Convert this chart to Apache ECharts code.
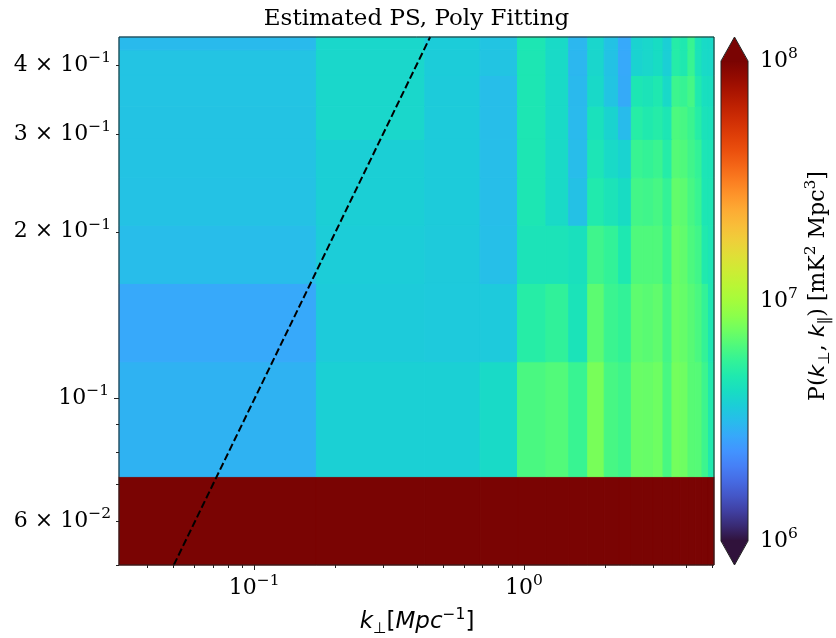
<!DOCTYPE html>
<html><head><meta charset="utf-8">
<script src="https://cdn.jsdelivr.net/npm/echarts@6/dist/echarts.min.js"></script>
<style>html,body{margin:0;padding:0;background:#fff}#c{width:836px;height:638px}</style>
</head><body><div id="c"></div>
<script>
// ---- data ----
const kPerpEdges = [0.030, 0.170, 0.429, 0.688, 0.947, 1.207, 1.466, 1.725, 1.985, 2.244, 2.503, 2.763, 3.022, 3.281, 3.541, 3.800, 4.059, 4.319, 4.578, 4.837, 5.096];
const kParEdges = [0.028, 0.0722, 0.1164, 0.1612, 0.2053, 0.2501, 0.2934, 0.3368, 0.3826, 0.4256, 0.4698];
const powerUnit = 1e6; // mK^2 Mpc^3
const psRow0 = [200, 200, 200, 200, 200, 200, 200, 200, 200, 200, 200, 200, 200, 200, 200, 200, 200, 200, 200, 200];
const psRow1 = [2.95, 3.75, 3.75, 4.09, 6.37, 6.61, 5.81, 7.91, 6.25, 5.97, 7.35, 7.28, 7.52, 6.31, 7.76, 7.52, 6.78, 6.71, 5.92, 4.90];
const psRow2 = [2.75, 3.60, 3.55, 3.55, 5.15, 5.55, 4.51, 6.92, 5.86, 5.62, 6.98, 6.84, 7.08, 6.14, 7.45, 7.21, 6.78, 6.37, 5.65, 4.72];
const psRow3 = [3.18, 3.66, 3.57, 3.24, 4.55, 4.55, 4.37, 6.00, 5.62, 4.81, 6.52, 6.52, 6.55, 5.81, 7.38, 7.08, 6.43, 6.08, 4.90, 4.63];
const psRow4 = [3.33, 3.73, 3.60, 3.21, 4.72, 4.09, 3.30, 4.94, 4.55, 4.19, 6.14, 6.03, 6.25, 5.65, 7.15, 6.92, 6.25, 5.81, 4.70, 4.66];
const psRow5 = [3.36, 3.73, 3.60, 3.21, 4.72, 4.09, 3.18, 4.63, 4.09, 3.86, 5.81, 5.65, 5.86, 5.08, 6.71, 6.52, 6.03, 5.65, 4.63, 4.59];
const psRow6 = [3.36, 3.98, 3.60, 3.21, 4.72, 4.09, 3.11, 4.41, 3.87, 3.15, 5.15, 4.90, 5.08, 4.70, 6.43, 6.25, 5.86, 5.15, 4.47, 4.41];
const psRow7 = [3.37, 3.98, 3.60, 3.21, 4.72, 4.09, 3.09, 4.06, 3.39, 2.78, 4.72, 4.55, 4.83, 4.06, 5.92, 5.75, 6.19, 4.90, 4.33, 4.29];
const psRow8 = [3.37, 3.98, 3.63, 3.39, 4.72, 4.09, 3.05, 3.95, 3.34, 2.75, 3.86, 3.98, 4.19, 3.73, 5.08, 4.83, 5.81, 4.47, 4.09, 4.06];
const psRow9 = [3.12, 3.98, 3.63, 3.39, 4.72, 4.09, 3.05, 3.95, 3.34, 2.75, 3.86, 3.98, 4.19, 3.73, 5.08, 4.83, 5.81, 4.47, 4.09, 4.06];
const psRows = [psRow0, psRow1, psRow2, psRow3, psRow4, psRow5, psRow6, psRow7, psRow8, psRow9];

const kPerpRange = [0.0315, 5.07];
const kParRange = [0.05, 0.449];
const colorRange = [1e6, 1e8];

const wedgeKperp = [0.0503, 0.449];
const wedgeKpar = [0.05, 0.449];

const xMajorTicks = [0.1, 1];
const xMajorLabels = [['', '10', '−1'], ['', '10', '0']];
const xMinorTicks = [0.04, 0.05, 0.06, 0.07, 0.08, 0.09, 0.2, 0.3, 0.4, 0.5, 0.6, 0.7, 0.8, 0.9, 2, 3, 4, 5];
const yMajorTicks = [0.1];
const yMajorLabels = [['', '10', '−1']];
const yMinorTicks = [0.05, 0.06, 0.07, 0.08, 0.09, 0.2, 0.3, 0.4];
const yMinorLabels = [null, ['6 × ', '10', '−2'], null, null, null, ['2 × ', '10', '−1'], ['3 × ', '10', '−1'], ['4 × ', '10', '−1']];

// ---- styling: turbo colormap (sampled every 8th entry) ----
const turboLUT = [
 [48,18,59],[57,42,115],[64,64,162],[68,86,199],[70,107,227],[70,128,246],[66,148,255],[55,168,250],
 [40,188,235],[28,205,216],[24,221,194],[31,233,175],[50,242,152],[78,249,125],[109,254,98],[139,255,75],
 [164,252,60],[185,246,53],[205,236,52],[223,223,55],[238,207,58],[248,190,57],[253,172,52],[254,150,43],
 [251,126,33],[244,102,23],[235,80,14],[223,63,8],[208,47,5],[190,33,2],[169,20,1],[146,10,1],[122,4,3]];
const turboColors = turboLUT.map(c => 'rgb(' + c.join(',') + ')');
const overColor = '#7a0403';
const underColor = '#30123b';
const SERIF = '"DejaVu Serif", serif';
const SANS = '"DejaVu Sans", sans-serif';
const FS = 22, FSS = 15.5;
const richSerif = {
  b: {fontFamily:SERIF, fontSize:FS, lineHeight:30, fill:'#000', color:'#000'},
  s: {fontFamily:SERIF, fontSize:FSS, lineHeight:15, verticalAlign:'top', fill:'#000', color:'#000'}
};
const labelText = parts => '{b|' + parts[0] + parts[1] + '}{s|' + parts[2] + '}';

// cells
const cells = [];
psRows.forEach((row, j) => {
  row.forEach((v, i) => {
    const val = v * powerUnit;
    cells.push([kPerpEdges[i], kPerpEdges[i+1], kParEdges[j], kParEdges[j+1], Math.log10(val), val]);
  });
});

const xTickData = [];
xMajorTicks.forEach((v,i) => xTickData.push({value:[v, kParRange[0]], major:true, label:xMajorLabels[i]}));
xMinorTicks.forEach(v => xTickData.push({value:[v, kParRange[0]], major:false, label:null}));
const yTickData = [];
yMajorTicks.forEach((v,i) => yTickData.push({value:[kPerpRange[0], v], major:true, label:yMajorLabels[i]}));
yMinorTicks.forEach((v,i) => yTickData.push({value:[kPerpRange[0], v], major:false, label:yMinorLabels[i]}));

const crisp = x => Math.round(x) + 0.5;

const chart = echarts.init(document.getElementById('c'), null, {renderer:'canvas'});
chart.setOption({
  animation: false,
  backgroundColor: '#fff',
  grid: [
    {left:119, top:37, width:595, height:528},
    {left:721, top:61, width:27, height:480}
  ],
  xAxis: [
    {type:'log', gridIndex:0, min:kPerpRange[0], max:kPerpRange[1], axisLine:{show:false}, axisTick:{show:false}, axisLabel:{show:false}, splitLine:{show:false}},
    {type:'value', gridIndex:1, min:0, max:1, show:false}
  ],
  yAxis: [
    {type:'log', gridIndex:0, min:kParRange[0], max:kParRange[1], axisLine:{show:false}, axisTick:{show:false}, axisLabel:{show:false}, splitLine:{show:false}},
    {type:'log', gridIndex:1, min:colorRange[0], max:colorRange[1], position:'right',
     axisLine:{show:false}, splitLine:{show:false},
     axisTick:{show:true, length:5, lineStyle:{color:'#222', width:1}},
     axisLabel:{margin:12, color:'#000', fontFamily:SERIF, fontSize:FS, rich:richSerif,
       formatter: v => labelText(['', '10', String(Math.round(Math.log10(v)))])}}
  ],
  visualMap: [{
    type:'continuous', show:false, seriesIndex:0, dimension:4, min:6, max:8,
    inRange:{color:turboColors}, outOfRange:{color:[overColor]}
  }],
  series: [
    {
      type:'custom', name:'PS', xAxisIndex:0, yAxisIndex:0, z:1, silent:true,
      data: cells,
      encode:{x:[0,1], y:[2,3]},
      renderItem: function(params, api){
        const p0 = api.coord([api.value(0), api.value(2)]);
        const p1 = api.coord([api.value(1), api.value(3)]);
        const cs = params.coordSys;
        const shape = echarts.graphic.clipRectByRect(
          {x:p0[0], y:p1[1], width:p1[0]-p0[0], height:p0[1]-p1[1]},
          {x:cs.x, y:cs.y, width:cs.width, height:cs.height});
        if (!shape) return;
        const col = api.value(4) > 8 ? overColor : api.visual('color');
        return {type:'rect', shape:shape, style:{fill:col, stroke:col, lineWidth:1}};
      }
    },
    {
      type:'line', name:'wedge', xAxisIndex:0, yAxisIndex:0, z:5, silent:true,
      data: wedgeKperp.map((x,i) => [x, wedgeKpar[i]]),
      showSymbol:false, symbol:'none',
      lineStyle:{color:'#000', width:2, type:[7.4,3.2]}
    },
    {
      type:'custom', name:'frame', xAxisIndex:0, yAxisIndex:0, z:6, silent:true,
      data:[[kPerpRange[0], kParRange[0]]],
      renderItem: function(params, api){
        const cs = params.coordSys;
        return {type:'rect', shape:{x:crisp(cs.x)-0.5, y:crisp(cs.y)-0.5, width:Math.round(cs.width), height:Math.round(cs.height)},
                style:{fill:'none', stroke:'#222', lineWidth:1}};
      }
    },
    {
      type:'custom', name:'xticks', xAxisIndex:0, yAxisIndex:0, z:6, silent:true, clip:false,
      data: xTickData,
      renderItem: function(params, api){
        const d = xTickData[params.dataIndex];
        const p = api.coord(d.value);
        const len = d.major ? 5 : 3;
        const x = crisp(p[0]);
        const ch = [{type:'line', shape:{x1:x, y1:p[1], x2:x, y2:p[1]+len}, style:{stroke:'#222', lineWidth:1}}];
        if (d.label) ch.push({type:'text', x:p[0], y:p[1]+len+3, style:{text:labelText(d.label), rich:richSerif, align:'center', verticalAlign:'top'}});
        return {type:'group', children:ch};
      }
    },
    {
      type:'custom', name:'yticks', xAxisIndex:0, yAxisIndex:0, z:6, silent:true, clip:false,
      data: yTickData,
      renderItem: function(params, api){
        const d = yTickData[params.dataIndex];
        const p = api.coord(d.value);
        const len = d.major ? 5 : 3;
        const y = crisp(p[1]);
        const ch = [{type:'line', shape:{x1:p[0], y1:y, x2:p[0]-len, y2:y}, style:{stroke:'#222', lineWidth:1}}];
        if (d.label) ch.push({type:'text', x:p[0]-len-5, y:p[1], style:{text:labelText(d.label), rich:richSerif, align:'right', verticalAlign:'middle'}});
        return {type:'group', children:ch};
      }
    },
    {
      type:'custom', name:'colorbar', xAxisIndex:1, yAxisIndex:1, z:2, silent:true, clip:false,
      data:[[0, colorRange[0]]],
      renderItem: function(params, api){
        const tl = api.coord([0, colorRange[1]]);
        const br = api.coord([1, colorRange[0]]);
        const len = br[1] - tl[1];
        const ext = 0.05 * len;
        const cx = (tl[0] + br[0]) / 2;
        const stops = turboColors.map((c,i) => ({offset:i/(turboColors.length-1), color:c}));
        return {type:'group', children:[
          {type:'rect', shape:{x:tl[0], y:tl[1], width:br[0]-tl[0], height:len},
           style:{fill:new echarts.graphic.LinearGradient(0,1,0,0,stops)}},
          {type:'polygon', shape:{points:[[tl[0],tl[1]+0.5],[cx,tl[1]-ext],[br[0],tl[1]+0.5]]}, style:{fill:overColor}},
          {type:'polygon', shape:{points:[[tl[0],br[1]-0.5],[cx,br[1]+ext],[br[0],br[1]-0.5]]}, style:{fill:underColor}},
          {type:'polygon', shape:{points:[[cx,tl[1]-ext],[br[0],tl[1]],[br[0],br[1]],[cx,br[1]+ext],[tl[0],br[1]],[tl[0],tl[1]]]},
           style:{fill:'none', stroke:'#222', lineWidth:1}}
        ]};
      }
    }
  ],
  graphic: [
    {type:'text', x:416.5, y:19, style:{text:'Estimated PS, Poly Fitting', fill:'#000', font:'23px '+SERIF, align:'center', verticalAlign:'middle'}},
    {type:'text', x:417, y:622, style:{
      text:'{i|k}{d|⊥}{n|[}{i|Mpc}{p|−1}{n|]}', align:'center', verticalAlign:'middle',
      rich:{
        i:{fontFamily:SANS, fontStyle:'italic', fontSize:23, lineHeight:30, fill:'#000'},
        n:{fontFamily:SANS, fontSize:23, lineHeight:30, fill:'#000'},
        d:{fontFamily:SANS, fontSize:FSS, lineHeight:20, verticalAlign:'bottom', fill:'#000'},
        p:{fontFamily:SANS, fontSize:FSS, lineHeight:15, verticalAlign:'top', fill:'#000'}
      }}},
    {type:'text', x:818, y:286, rotation:Math.PI/2, style:{
      text:'{n|P(}{i|k}{d|⊥}{n|, }{i|k}{d|∥}{n|) [mK}{p|2}{n| Mpc}{p|3}{n|]}', align:'center', verticalAlign:'middle',
      rich:{
        i:{fontFamily:SANS, fontStyle:'italic', fontSize:FS, lineHeight:30, fill:'#000'},
        n:{fontFamily:SERIF, fontSize:FS, lineHeight:30, fill:'#000'},
        d:{fontFamily:SANS, fontSize:FSS, lineHeight:20, verticalAlign:'bottom', fill:'#000'},
        p:{fontFamily:SERIF, fontSize:FSS, lineHeight:15, verticalAlign:'top', fill:'#000'}
      }}}
  ]
});
</script>
</body></html>
